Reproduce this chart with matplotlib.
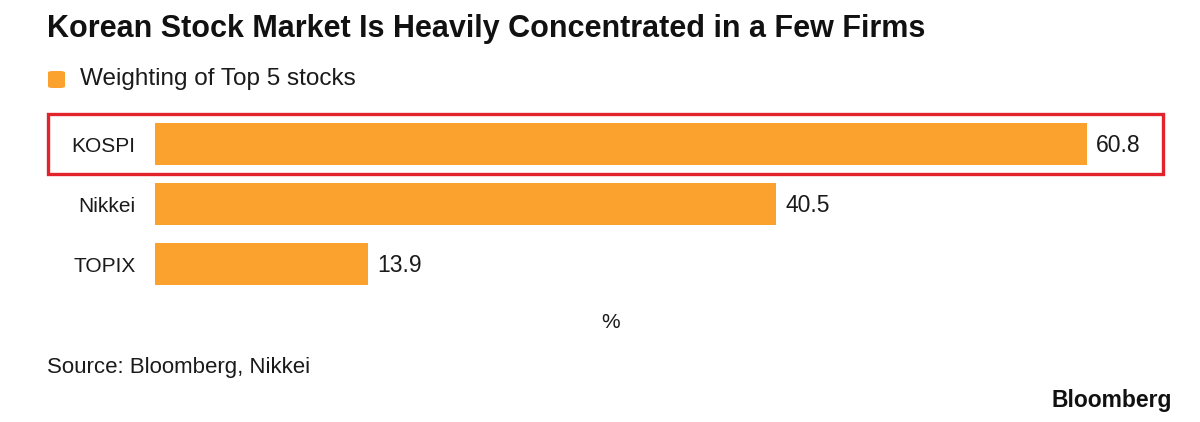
import matplotlib
matplotlib.use("Agg")
import matplotlib.pyplot as plt
from matplotlib.patches import Rectangle, FancyBboxPatch

categories = ["KOSPI", "Nikkei", "TOPIX"]
values = [60.8, 40.5, 13.9]
series_name = "Weighting of Top 5 stocks"
title = "Korean Stock Market Is Heavily Concentrated in a Few Firms"
unit_label = "%"
source = "Source: Bloomberg, Nikkei"
brand = "Bloomberg"

BAR = "#FBA12E"
RED = "#E2232B"
W, H = 1200, 422
plt.rcParams['font.family'] = ['Liberation Sans', 'DejaVu Sans']

fig = plt.figure(figsize=(W / 100, H / 100), dpi=100)

def fx(x):
    return x / W

def fy(y):
    return 1 - y / H

# axes: x from 155 to 1163 px; y from 114 to 294 px
ax_left, ax_right, ax_top, ax_bot = 155, 1163, 114, 294
ax = fig.add_axes([fx(ax_left), fy(ax_bot), fx(ax_right - ax_left), (ax_bot - ax_top) / H])
px_per_unit = (1087 - 155) / 60.8
ax.set_xlim(0, (ax_right - ax_left) / px_per_unit)
ax.set_ylim(len(categories) - 0.5, -0.5)
ypos = list(range(len(categories)))
ax.barh(ypos, values, height=0.7, color=BAR, edgecolor="none")
for y, v in zip(ypos, values):
    ax.text(v + 0.6, y + 0.03, f"{v:.1f}", va="center", ha="left", fontsize=16.5, color="#1a1a1a")
ax.set_yticks(ypos)
ax.set_yticklabels(categories, fontsize=15, color="#1a1a1a")
ax.tick_params(axis="y", length=0, pad=14)
ax.set_xticks([])
for s in ax.spines.values():
    s.set_visible(False)

# Highlight box around KOSPI row
fig.patches.append(Rectangle((fx(48), fy(174)), fx(1163 - 48), (174 - 114) / H,
                             transform=fig.transFigure, fill=False,
                             edgecolor=RED, linewidth=2.4))

# Title
fig.text(fx(47), fy(29), title, fontsize=22, fontweight="bold", va="center", ha="left", color="#111111")

# Legend
fig.patches.append(FancyBboxPatch((fx(48), fy(88)), fx(17), 17 / H,
                                  boxstyle="round,pad=0,rounding_size=0.004",
                                  transform=fig.transFigure, facecolor=BAR, edgecolor="none"))
fig.text(fx(80), fy(79), series_name, fontsize=17.5, va="center", ha="left", color="#1a1a1a")

# Unit label
fig.text(fx(611), fy(322), unit_label, fontsize=15, va="center", ha="center", color="#1a1a1a")

# Source
fig.text(fx(47), fy(368), source, fontsize=16, va="center", ha="left", color="#1a1a1a")

# Brand
fig.text(fx(1172), fy(400), brand, fontsize=16.5, fontweight="bold", va="center", ha="right", color="#111111")

fig.savefig("out.png", dpi=100, facecolor="white")
